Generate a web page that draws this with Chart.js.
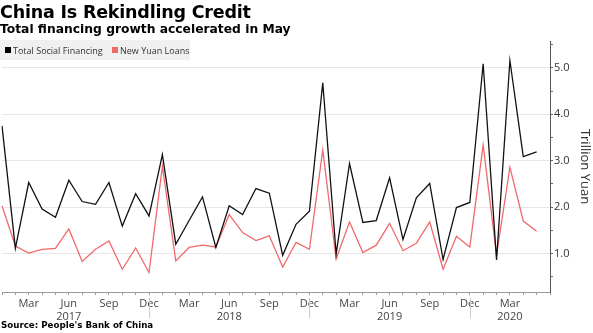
<!DOCTYPE html>
<html>
<head>
<meta charset="utf-8">
<script src="https://cdn.jsdelivr.net/npm/chart.js@4.4.1/dist/chart.umd.min.js"></script>
<style>
  html, body { margin: 0; padding: 0; background: #fff; }
  #wrap { position: relative; width: 593px; height: 333px; overflow: hidden; }
  #chart { position: absolute; left: 0; top: 0; }
  .title { position: absolute; left: 0; top: 2px; font: bold 17.5px 'DejaVu Sans', sans-serif; color: #000; white-space: nowrap; letter-spacing: -0.2px; }
  .subtitle { position: absolute; left: 0; top: 22px; font: bold 12.3px 'DejaVu Sans', sans-serif; color: #000; white-space: nowrap; }
  .legend { position: absolute; left: 0; top: 40px; width: 190px; height: 20px; background: #f0f0f0; font: 9px 'Open Sans', sans-serif; color: #333; white-space: nowrap; }
  .legend span { position: absolute; top: 4px; }
  .legend i { position: absolute; top: 7px; width: 6px; height: 6px; }
  .source { position: absolute; left: 1px; top: 320px; font: bold 8.7px 'DejaVu Sans', sans-serif; color: #000; white-space: nowrap; }
</style>
</head>
<body>
<div id="wrap">
  <canvas id="chart" width="593" height="333"></canvas>
  <div class="title">China Is Rekindling Credit</div>
  <div class="subtitle">Total financing growth accelerated in May</div>
  <div class="legend">
    <i style="left:5px;background:#000"></i><span style="left:13px">Total Social Financing</span>
    <i style="left:112px;background:#f0696b"></i><span style="left:120px">New Yuan Loans</span>
  </div>
  <div class="source">Source: People's Bank of China</div>
</div>
<script>
// Monthly categories, Jan 2017 .. Jun 2020 (Jun 2020 is an empty slot at the axis end)
const months = [
  'Jan 2017', 'Feb 2017', 'Mar 2017', 'Apr 2017', 'May 2017', 'Jun 2017',
  'Jul 2017', 'Aug 2017', 'Sep 2017', 'Oct 2017', 'Nov 2017', 'Dec 2017',
  'Jan 2018', 'Feb 2018', 'Mar 2018', 'Apr 2018', 'May 2018', 'Jun 2018',
  'Jul 2018', 'Aug 2018', 'Sep 2018', 'Oct 2018', 'Nov 2018', 'Dec 2018',
  'Jan 2019', 'Feb 2019', 'Mar 2019', 'Apr 2019', 'May 2019', 'Jun 2019',
  'Jul 2019', 'Aug 2019', 'Sep 2019', 'Oct 2019', 'Nov 2019', 'Dec 2019',
  'Jan 2020', 'Feb 2020', 'Mar 2020', 'Apr 2020', 'May 2020', 'Jun 2020',
];

// Trillion yuan
const totalSocialFinancing = [
  3.75, 1.11, 2.53, 1.96, 1.78, 2.58, 2.12, 2.06, 2.53, 1.59, 2.29, 1.81,
  3.13, 1.20, 1.71, 2.22, 1.13, 2.03, 1.84, 2.40, 2.30, 0.96, 1.63, 1.91,
  4.68, 0.99, 2.94, 1.67, 1.71, 2.63, 1.30, 2.20, 2.51, 0.87, 1.99, 2.10,
  5.09, 0.86, 5.16, 3.09, 3.19, null,
];
const newYuanLoans = [
  2.03, 1.16, 1.01, 1.09, 1.11, 1.53, 0.83, 1.09, 1.27, 0.66, 1.12, 0.59,
  2.88, 0.84, 1.13, 1.18, 1.14, 1.84, 1.45, 1.28, 1.38, 0.71, 1.24, 1.09,
  3.23, 0.88, 1.68, 1.02, 1.18, 1.65, 1.06, 1.22, 1.68, 0.66, 1.37, 1.14,
  3.34, 0.96, 2.86, 1.70, 1.48, null,
];

// Axis text
const monthTicks = ['Mar', 'Jun', 'Sep', 'Dec'];
const monthTickAt = [2, 5, 8, 11];          // month-of-year index for each label
const lastLabelled = 40;                    // no label on the empty Jun 2020 slot
const yearLabels = ['2017', '2018', '2019', '2020'];
const yearLabelAt = [5, 17, 29, 38];
const yearBreakAt = [11, 23, 35];

const TICK_FONT = "'Open Sans', sans-serif";

function isWhole(v) {
  return Math.abs(v - Math.round(v)) < 1e-6;
}

// Short grey separators under the axis marking each year
const yearBreaks = {
  id: 'yearBreaks',
  afterDraw(chart) {
    const { ctx, chartArea, scales } = chart;
    ctx.save();
    ctx.strokeStyle = '#c8c8c8';
    ctx.lineWidth = 1;
    yearBreakAt.forEach(i => {
      const x = Math.round(scales.x.getPixelForValue(i)) + 0.5;
      ctx.beginPath();
      ctx.moveTo(x, chartArea.bottom + 6);
      ctx.lineTo(x, chartArea.bottom + 26);
      ctx.stroke();
    });
    ctx.restore();
  },
};

new Chart(document.getElementById('chart'), {
  type: 'line',
  data: {
    labels: months,
    datasets: [
      {
        label: 'Total Social Financing',
        data: totalSocialFinancing,
        borderColor: '#111',
        borderWidth: 1.3,
        pointRadius: 0,
        tension: 0,
      },
      {
        label: 'New Yuan Loans',
        data: newYuanLoans,
        borderColor: '#f0696b',
        borderWidth: 1.3,
        pointRadius: 0,
        tension: 0,
      },
    ],
  },
  options: {
    responsive: false,
    animation: false,
    layout: { padding: { top: 41, left: 0, right: 0, bottom: 0 } },
    plugins: {
      legend: { display: false },
      tooltip: { enabled: false },
    },
    scales: {
      x: {
        type: 'category',
        offset: false,
        afterFit: scale => { scale.height = 41; },
        border: { display: true, color: '#999', width: 1 },
        grid: { drawOnChartArea: false, drawTicks: true, tickLength: 3, tickColor: '#999' },
        ticks: {
          autoSkip: false,
          maxRotation: 0,
          padding: 2,
          color: '#444',
          font: { family: TICK_FONT, size: 11, lineHeight: 1.2 },
          callback: (value, index) => {
            const k = monthTickAt.indexOf(index % 12);
            if (k < 0 || index > lastLabelled) return '';
            const y = yearLabelAt.indexOf(index);
            return y >= 0 ? [monthTicks[k], yearLabels[y]] : monthTicks[k];
          },
        },
      },
      y: {
        position: 'right',
        min: 0.17,
        max: 5.58,
        afterFit: scale => { scale.width = 43; },
        border: { display: true, color: '#555', width: 1 },
        grid: {
          color: ctx => (ctx.tick && isWhole(ctx.tick.value)) ? '#e6e6e6' : 'rgba(0,0,0,0)',
          drawTicks: true,
          tickLength: 3,
          tickColor: '#666',
        },
        ticks: {
          stepSize: 0.5,
          includeBounds: false,
          padding: 1,
          color: '#333',
          font: { family: TICK_FONT, size: 11 },
          callback: v => isWhole(v) ? Number(v).toFixed(1) : '',
        },
        title: {
          display: true,
          text: 'Trillion Yuan',
          color: '#333',
          padding: 0,
          font: { family: TICK_FONT, size: 13 },
        },
      },
    },
  },
  plugins: [yearBreaks],
});
</script>
</body>
</html>
